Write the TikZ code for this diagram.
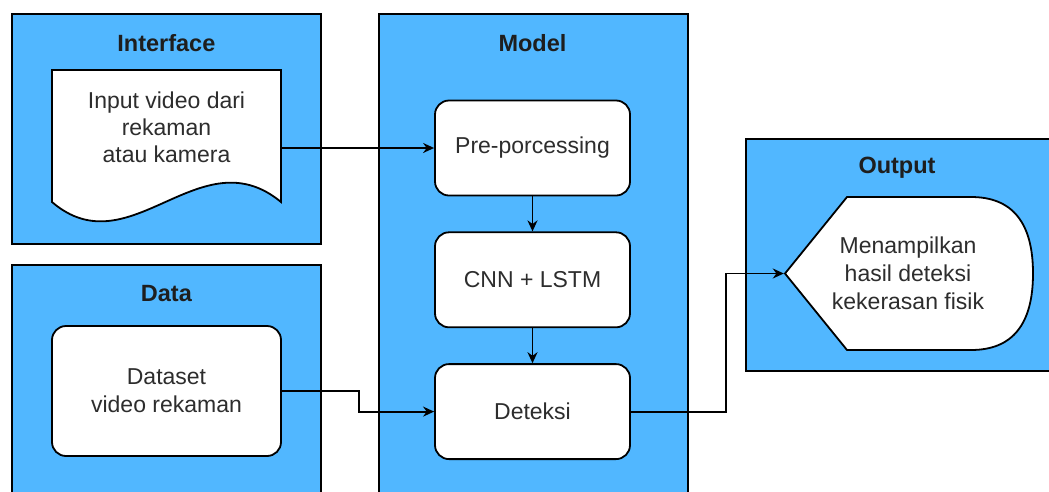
\documentclass[tikz,border=0pt]{standalone}
\usepackage{fontspec}
\setmainfont{Liberation Sans}
\usetikzlibrary{positioning, arrows.meta}
\definecolor{panelFill}{RGB}{81, 183, 255}
\definecolor{primaryColor}{RGB}{30, 30, 30}
\definecolor{boxText}{RGB}{45, 45, 45}
\tikzset{
    panel_box/.style={
        draw=black,
        line width=1.8pt,
        fill=panelFill,
        anchor=north west,
        inner sep=0pt
    },
    panel_title/.style={
        text=primaryColor,
        font=\fontsize{23.5}{27}\selectfont\bfseries
    },
    step_box/.style={
        draw=black,
        line width=1.8pt,
        fill=white,
        rounded corners=14pt,
        text=boxText,
        align=center,
        font=\fontsize{23}{28}\selectfont
    },
    shape_line/.style={
        draw=black,
        line width=1.8pt,
        fill=white
    },
    flow_edge/.style={
        -{Stealth[length=11pt, width=10pt]},
        line width=1.8pt,
        draw=black
    }
}
\begin{document}
\begin{tikzpicture}[x=1pt, y=-1pt, node distance=35pt]
    \clip (0,0) rectangle (1049,491);
    \fill[white] (0,0) rectangle (1049,491);

    % panels
    \node[panel_box, minimum width=309pt, minimum height=230pt] (interface) at (11,13) {};
    \node[panel_box, minimum width=309pt, minimum height=250pt] (data) at (11,264) {};
    \node[panel_box, minimum width=309pt, minimum height=500pt] (model) at (378,13) {};
    \node[panel_box, minimum width=330pt, minimum height=232pt] (output) at (745,138) {};

    \node[panel_title] (interfaceTitle) at ([yshift=-30pt]interface.north) {Interface};
    \node[panel_title] (dataTitle) at ([yshift=-30pt]data.north) {Data};
    \node[panel_title] (modelTitle) at (532.5,43) {Model};
    \node[panel_title] (outputTitle) at (897,168) {Output};

    % input document
    \draw[shape_line] (52,70) -- (281,70) -- (281,202)
        .. controls (200,135) and (130,269) .. (52,202) -- cycle;
    \node[minimum width=229pt, minimum height=156pt] (input) at (166.5,148) {};
    \node[align=center, text=boxText, font=\fontsize{23}{27}\selectfont]
        (inputText) at ([yshift=21pt]input.center) {Input video dari\\rekaman\\atau kamera};

    % dataset
    \node[step_box, minimum width=229pt, minimum height=130pt] (dataset) at (166.5,391)
        {Dataset\\video rekaman};

    % model steps
    \node[step_box, minimum width=195pt, minimum height=95pt] (pre) at (532.5,148) {Pre-porcessing};
    \node[step_box, minimum width=195pt, minimum height=95pt, below=of pre] (cnn) {CNN + LSTM};
    \node[step_box, minimum width=195pt, minimum height=95pt, below=of cnn] (deteksi) {Deteksi};

    % output display
    \draw[shape_line] (785,273.5) -- (847,197) -- (971,197)
        .. controls (1012.3,197) and (1033,222.5) .. (1033,273.5)
        .. controls (1033,324.5) and (1012.3,350) .. (971,350)
        -- (847,350) -- cycle;
    \node[minimum width=248pt, minimum height=153pt, align=center, text=boxText,
        font=\fontsize{23}{28}\selectfont] (display) at (908,273.5)
        {Menampilkan\\hasil deteksi\\kekerasan fisik};

    % connectors
    \draw[flow_edge] (input.east) -- (pre.west);
    \draw[flow_edge] (pre.south) -- (cnn.north);
    \draw[flow_edge] (cnn.south) -- (deteksi.north);
    \draw[flow_edge] (dataset.east) -- ++(77,0) |- (deteksi.west);
    \draw[flow_edge] (deteksi.east) -- ++(95,0) |- (display.west);
\end{tikzpicture}
\end{document}
